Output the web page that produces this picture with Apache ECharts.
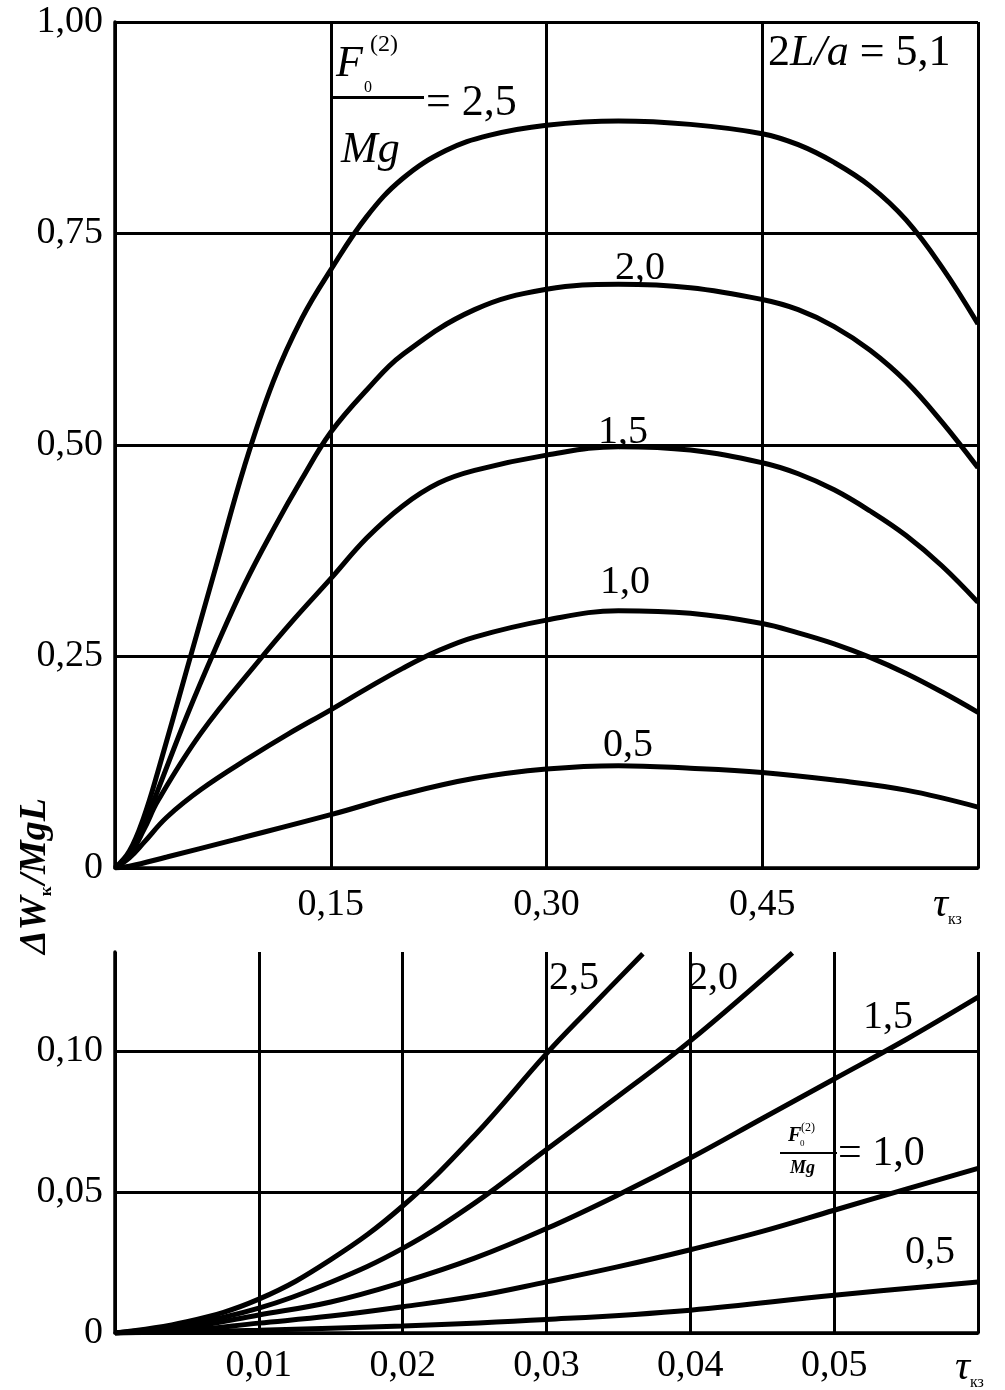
<!DOCTYPE html>
<html><head><meta charset="utf-8">
<script src="https://cdn.jsdelivr.net/npm/echarts@6/dist/echarts.min.js"></script>
<style>html,body{margin:0;padding:0;background:#fff}#c{width:1005px;height:1390px}</style>
</head><body><div id="c"></div>
<script>
// ---- top panel data (tau, dW/MgL) ----
const topTau25 = [0,0.01,0.02,0.03,0.05,0.07,0.09,0.11,0.13,0.15,0.175,0.20,0.23,0.26,0.30,0.35,0.40,0.45,0.475,0.50,0.525,0.55,0.575,0.60];
const topVal25 = [0,0.02,0.06,0.115,0.235,0.355,0.475,0.575,0.65,0.707,0.77,0.815,0.848,0.866,0.878,0.883,0.879,0.868,0.855,0.834,0.806,0.766,0.71,0.643];
const topTau20 = [0,0.01,0.02,0.03,0.05,0.07,0.09,0.11,0.13,0.15,0.175,0.20,0.25,0.30,0.35,0.40,0.45,0.475,0.50,0.525,0.55,0.575,0.60];
const topVal20 = [0,0.017,0.05,0.093,0.18,0.26,0.335,0.40,0.46,0.515,0.565,0.607,0.66,0.684,0.69,0.686,0.672,0.66,0.64,0.612,0.575,0.527,0.473];
const topTau15 = [0,0.01,0.02,0.03,0.06,0.10,0.125,0.15,0.175,0.20,0.225,0.25,0.30,0.35,0.40,0.45,0.475,0.50,0.525,0.55,0.575,0.60];
const topVal15 = [0,0.015,0.045,0.08,0.16,0.245,0.295,0.342,0.39,0.428,0.455,0.47,0.488,0.498,0.494,0.479,0.466,0.447,0.422,0.393,0.357,0.314];
const topTau10 = [0,0.01,0.02,0.036,0.06,0.094,0.12,0.15,0.175,0.20,0.225,0.25,0.30,0.35,0.40,0.45,0.475,0.50,0.525,0.55,0.575,0.60];
const topVal10 = [0,0.012,0.03,0.06,0.093,0.131,0.158,0.187,0.212,0.236,0.257,0.273,0.293,0.304,0.301,0.289,0.278,0.265,0.249,0.23,0.208,0.184];
const topTau05 = [0,0.01,0.036,0.082,0.15,0.20,0.25,0.30,0.35,0.40,0.45,0.50,0.55,0.60];
const topVal05 = [0,0.002,0.013,0.033,0.063,0.087,0.106,0.117,0.121,0.118,0.113,0.104,0.092,0.072];
// ---- bottom panel data ----
const botTau25 = [0,0.005,0.01,0.015,0.02,0.025,0.03,0.033,0.0367];
const botVal25 = [0,0.004,0.012,0.026,0.045,0.070,0.099,0.115,0.1344];
const botTau20 = [0,0.005,0.01,0.015,0.02,0.025,0.03,0.035,0.04,0.0471];
const botVal20 = [0,0.003,0.0088,0.018,0.030,0.046,0.065,0.084,0.1035,0.1347];
const botTau15 = [0,0.005,0.01,0.015,0.02,0.025,0.03,0.035,0.04,0.045,0.05,0.055,0.06];
const botVal15 = [0,0.002,0.0064,0.011,0.018,0.0265,0.037,0.049,0.062,0.076,0.090,0.104,0.119];
const botTau10 = [0,0.005,0.01,0.015,0.02,0.025,0.03,0.035,0.04,0.045,0.05,0.055,0.06];
const botVal10 = [0,0.001,0.0035,0.006,0.0093,0.013,0.0181,0.0235,0.0295,0.036,0.0435,0.051,0.0583];
const botTau05 = [0,0.01,0.02,0.03,0.04,0.05,0.06];
const botVal05 = [0,0.001,0.0025,0.0048,0.0081,0.0134,0.0181];
// ---- tick labels ----
const topXLabels = ['', '0,15', '0,30', '0,45', ''];
const topYLabels = ['0', '0,25', '0,50', '0,75', '1,00'];
const botXLabels = ['', '0,01', '0,02', '0,03', '0,04', '0,05', ''];
const botYLabels = ['0', '0,05', '0,10'];

const zip = (a, b) => a.map((v, i) => [v, b[i]]);
const FONT = 'Liberation Serif';
const lbl = {color: '#000', fontFamily: FONT, fontSize: 38};
const gridLine = {show: true, lineStyle: {color: '#000', width: 3}};
const axLine = {show: true, lineStyle: {color: '#000', width: 3.5}};
function byStep(arr, step) { return v => { const i = Math.round(v / step); return arr[i] !== undefined ? arr[i] : ''; }; }

const chart = echarts.init(document.getElementById('c'), null, {renderer: 'canvas'});
function line(x, y, gi) {
  return {type: 'line', xAxisIndex: gi, yAxisIndex: gi, data: zip(x, y), smooth: 0.4,
    showSymbol: false, symbol: 'none', lineStyle: {color: '#000', width: 5}, z: 5, animation: false};
}
const T = (text, x, y, size, opts) => Object.assign({type: 'text', x: x, y: y, z: 10,
  style: Object.assign({text: text, fontFamily: FONT, fontSize: size, fill: '#000', textVerticalAlign: 'middle'}, opts && opts.style || {})},
  opts && opts.el || {});

chart.setOption({
  animation: false,
  backgroundColor: '#fff',
  grid: [
    {left: 115, top: 22, width: 863, height: 846, show: false},
    {left: 115, top: 952, width: 863, height: 381, show: false}
  ],
  xAxis: [
    {gridIndex: 0, type: 'value', min: 0, max: 0.6, interval: 0.15, axisLine: axLine, axisTick: {show: false},
     splitLine: gridLine, axisLabel: Object.assign({}, lbl, {margin: 18, formatter: byStep(topXLabels, 0.15)})},
    {gridIndex: 1, type: 'value', min: 0, max: 0.06, interval: 0.01, axisLine: axLine, axisTick: {show: false},
     splitLine: gridLine, axisLabel: Object.assign({}, lbl, {margin: 14, formatter: byStep(botXLabels, 0.01)})}
  ],
  yAxis: [
    {gridIndex: 0, type: 'value', min: 0, max: 1, interval: 0.25, axisLine: axLine, axisTick: {show: false},
     splitLine: gridLine, axisLabel: Object.assign({}, lbl, {margin: 12, formatter: byStep(topYLabels, 0.25)})},
    {gridIndex: 1, type: 'value', min: 0, max: 0.135, interval: 0.05, axisLine: axLine, axisTick: {show: false},
     splitLine: Object.assign({}, gridLine, {showMaxLine: false}), axisLabel: Object.assign({}, lbl, {margin: 12, showMaxLabel: false, formatter: byStep(botYLabels, 0.05)})}
  ],
  series: [
    line(topTau25, topVal25, 0), line(topTau20, topVal20, 0), line(topTau15, topVal15, 0),
    line(topTau10, topVal10, 0), line(topTau05, topVal05, 0),
    line(botTau25, botVal25, 1), line(botTau20, botVal20, 1), line(botTau15, botVal15, 1),
    line(botTau10, botVal10, 1), line(botTau05, botVal05, 1)
  ],
  graphic: [
    // top fraction F0(2)/Mg = 2,5
    {type: 'rect', shape: {x: 332, y: 96, width: 92, height: 3}, style: {fill: '#000'}, z: 10},
    T('F', 336, 64, 44, {style: {fontStyle: 'italic'}}),
    T('(2)', 370, 45, 24),
    T('0', 364, 88, 16),
    T('= 2,5', 426, 103, 44),
    T('Mg', 341, 150, 44, {style: {fontStyle: 'italic'}}),
    // 2L/a = 5,1
    {type: 'text', x: 768, y: 53, z: 10, style: {
      text: '{n|2}{i|L/a}{n| = 5,1}', textVerticalAlign: 'middle',
      rich: {n: {fontFamily: FONT, fontSize: 44, fill: '#000'}, i: {fontFamily: FONT, fontSize: 44, fontStyle: 'italic', fill: '#000'}}}},
    // curve labels top
    T('2,0', 615, 268, 40), T('1,5', 598, 432, 40), T('1,0', 600, 582, 40), T('0,5', 603, 745, 40),
    // tau kz
    {type: 'text', x: 933, y: 905, z: 10, style: {text: '{t|τ}{s|кз}', textVerticalAlign: 'middle',
      rich: {t: {fontFamily: FONT, fontSize: 42, fontStyle: 'italic', fill: '#000'}, s: {fontFamily: FONT, fontSize: 16, fill: '#000', padding: [30, 0, 0, 0]}}}},
    {type: 'text', x: 955, y: 1368, z: 10, style: {text: '{t|τ}{s|кз}', textVerticalAlign: 'middle',
      rich: {t: {fontFamily: FONT, fontSize: 42, fontStyle: 'italic', fill: '#000'}, s: {fontFamily: FONT, fontSize: 16, fill: '#000', padding: [30, 0, 0, 0]}}}},
    // bottom labels
    T('2,5', 549, 978, 40), T('2,0', 688, 978, 40), T('1,5', 863, 1017, 40), T('0,5', 905, 1252, 40),
    {type: 'rect', shape: {x: 780, y: 1152, width: 57, height: 2}, style: {fill: '#000'}, z: 10},
    T('F', 788, 1136, 20, {style: {fontStyle: 'italic', fontWeight: 'bold'}}),
    T('(2)', 801, 1128, 12),
    T('0', 800, 1144, 9),
    T('Mg', 790, 1168, 18, {style: {fontStyle: 'italic', fontWeight: 'bold'}}),
    T('= 1,0', 838, 1154, 42),
    // y axis title
    {type: 'text', x: 35, y: 876, rotation: Math.PI / 2, z: 10, style: {
      text: '{a|ΔW}{s|к}{a|/MgL}', textAlign: 'center', textVerticalAlign: 'middle',
      rich: {a: {fontFamily: FONT, fontSize: 38, fontStyle: 'italic', fontWeight: 'bold', fill: '#000'},
             s: {fontFamily: FONT, fontSize: 17, fontWeight: 'bold', fill: '#000', padding: [24, 2, 0, 0]}}}}
  ]
});
</script></body></html>
